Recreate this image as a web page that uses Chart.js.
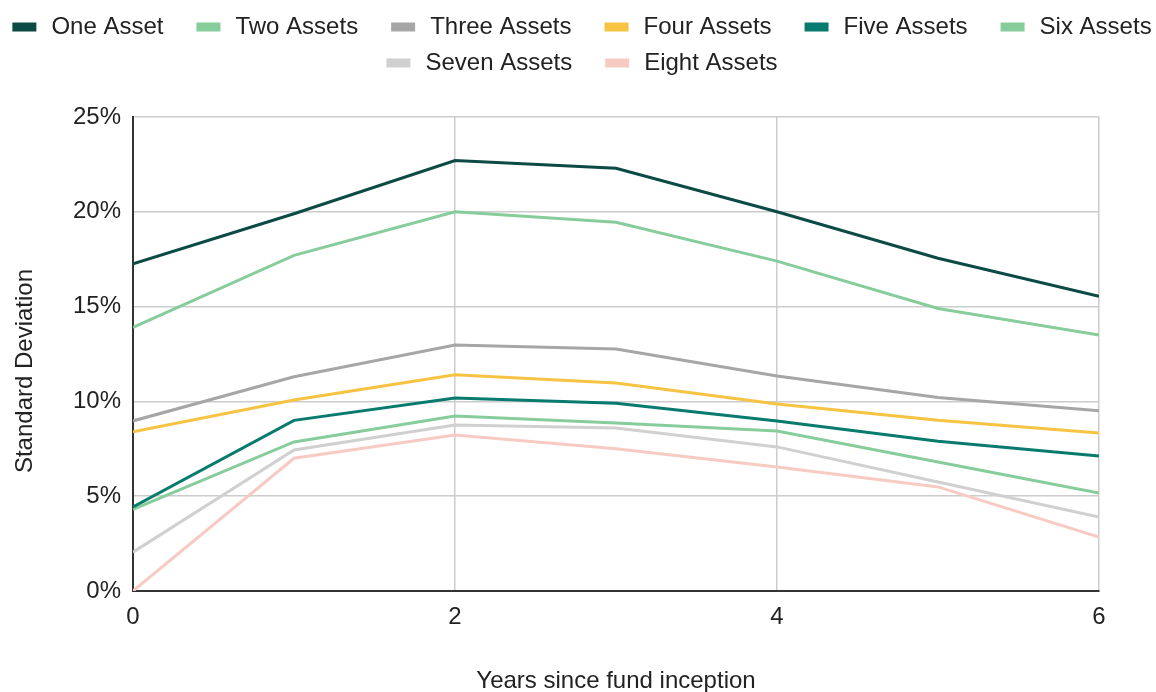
<!DOCTYPE html>
<html>
<head>
<meta charset="utf-8">
<title>Standard deviation by number of assets</title>
<script src="https://cdn.jsdelivr.net/npm/chart.js@4.4.1/dist/chart.umd.min.js"></script>
<style>
  html, body { margin: 0; padding: 0; background: #fff; }
  #wrap { width: 1156px; height: 692px; }
</style>
</head>
<body>
<div id="wrap"><canvas id="sdChart" width="1156" height="692"></canvas></div>
<script>
// years since inception (x) and standard deviation in % per portfolio size
const years = [0, 1, 2, 3, 4, 5, 6];
const seriesNames = ['One Asset', 'Two Assets', 'Three Assets', 'Four Assets',
  'Five Assets', 'Six Assets', 'Seven Assets', 'Eight Assets'];
const oneAsset    = [17.25, 19.9, 22.7, 22.3, 20.0, 17.55, 15.55];
const twoAssets   = [13.9, 17.7, 20.0, 19.45, 17.4, 14.9, 13.5];
const threeAssets = [8.97, 11.3, 12.97, 12.76, 11.34, 10.2, 9.5];
const fourAssets  = [8.4, 10.07, 11.4, 10.97, 9.86, 9.0, 8.33];
const fiveAssets  = [4.43, 9.0, 10.18, 9.9, 8.97, 7.9, 7.12];
const sixAssets   = [4.3, 7.86, 9.23, 8.86, 8.44, 6.8, 5.17];
const sevenAssets = [2.05, 7.44, 8.76, 8.6, 7.6, 5.75, 3.9];
const eightAssets = [0, 7.0, 8.23, 7.5, 6.54, 5.49, 2.85];
const yTicks = [0, 5, 10, 15, 20, 25];
const xTicks = [0, 2, 4, 6];

const seriesValues = [oneAsset, twoAssets, threeAssets, fourAssets,
  fiveAssets, sixAssets, sevenAssets, eightAssets];
const seriesColors = ['#0c4a45', '#87cc9b', '#a6a6a6', '#f6c342',
  '#087a6e', '#87cc9b', '#d0d0d0', '#f7cbc3'];

const FONT = 'Liberation Sans, Arial, sans-serif';

// legend drawn as centred rows of wide boxes above the plot
const rowLegend = {
  id: 'rowLegend',
  afterDraw(chart, args, opts) {
    const ctx = chart.ctx;
    ctx.save();
    ctx.font = opts.fontSize + 'px ' + FONT;
    const items = chart.data.datasets.map(ds => ({
      text: ds.label,
      color: ds.borderColor,
      w: opts.boxWidth + opts.boxGap + ctx.measureText(ds.label).width
    }));
    const rows = [[]];
    let rowW = 0;
    items.forEach(it => {
      const cur = rows[rows.length - 1];
      const add = cur.length ? opts.itemGap + it.w : it.w;
      if (cur.length && rowW + add > chart.width) {
        rows.push([it]);
        rowW = it.w;
      } else {
        cur.push(it);
        rowW += add;
      }
    });
    ctx.textBaseline = 'middle';
    ctx.textAlign = 'left';
    rows.forEach((row, r) => {
      const total = row.reduce((s, it) => s + it.w, 0) + opts.itemGap * (row.length - 1);
      let x = chart.width / 2 + opts.offsetX - total / 2;
      const y = opts.top + r * opts.rowHeight;
      row.forEach(it => {
        ctx.fillStyle = it.color;
        ctx.fillRect(x, y - opts.boxHeight / 2, opts.boxWidth, opts.boxHeight);
        ctx.fillStyle = opts.color;
        ctx.fillText(it.text, x + opts.boxWidth + opts.boxGap, y);
        x += it.w + opts.itemGap;
      });
    });
    ctx.restore();
  }
};

// vertical y-axis title, sits a little below the plot's middle
const sideTitle = {
  id: 'sideTitle',
  afterDraw(chart, args, opts) {
    const ctx = chart.ctx;
    const area = chart.chartArea;
    ctx.save();
    ctx.font = opts.fontSize + 'px ' + FONT;
    ctx.fillStyle = opts.color;
    ctx.textAlign = 'center';
    ctx.textBaseline = 'middle';
    ctx.translate(opts.x, (area.top + area.bottom) / 2 + opts.offsetY);
    ctx.rotate(-Math.PI / 2);
    ctx.fillText(opts.text, 0, 0);
    ctx.restore();
  }
};

const datasets = seriesNames.map((name, i) => ({
  label: name,
  data: years.map((yr, j) => ({ x: yr, y: seriesValues[i][j] })),
  borderColor: seriesColors[i],
  backgroundColor: seriesColors[i],
  borderWidth: 3,
  pointRadius: 0,
  pointHoverRadius: 0,
  tension: 0,
  fill: false
}));

const ctx = document.getElementById('sdChart').getContext('2d');
const sdChart = new Chart(ctx, {
  type: 'line',
  data: { datasets: datasets },
  options: {
    responsive: false,
    animation: false,
    devicePixelRatio: 1,
    layout: { padding: { top: 117, right: 57, left: 0, bottom: 0 } },
    plugins: {
      legend: { display: false },
      tooltip: { enabled: false },
      rowLegend: {
        fontSize: 24,
        color: '#222222',
        boxWidth: 24,
        boxHeight: 9,
        boxGap: 15,
        itemGap: 33,
        rowHeight: 36,
        top: 27,
        offsetX: 4
      },
      sideTitle: {
        text: 'Standard Deviation',
        fontSize: 24,
        color: '#222222',
        x: 25,
        offsetY: 17
      }
    },
    scales: {
      x: {
        type: 'linear',
        min: 0,
        max: 6,
        afterBuildTicks: s => { s.ticks = xTicks.map(v => ({ value: v })); },
        afterFit: s => { s.height = 101; },
        grid: { color: '#cccccc', lineWidth: 1.5, drawTicks: false },
        border: { color: '#333333', width: 2 },
        ticks: {
          padding: 12,
          color: '#222222',
          font: { family: FONT, size: 24 },
          maxRotation: 0
        },
        title: {
          display: true,
          text: 'Years since fund inception',
          color: '#222222',
          font: { family: FONT, size: 24, lineHeight: 0.85 },
          padding: { top: 0, bottom: 0 }
        }
      },
      y: {
        min: 0,
        max: 25,
        afterBuildTicks: s => { s.ticks = yTicks.map(v => ({ value: v })); },
        afterFit: s => { s.width = 133; },
        grid: { color: '#cccccc', lineWidth: 1.5, drawTicks: false },
        border: { color: '#333333', width: 2 },
        ticks: {
          padding: 12,
          color: '#222222',
          font: { family: FONT, size: 24 },
          callback: v => v + '%'
        }
      }
    }
  },
  plugins: [rowLegend, sideTitle]
});
</script>
</body>
</html>
